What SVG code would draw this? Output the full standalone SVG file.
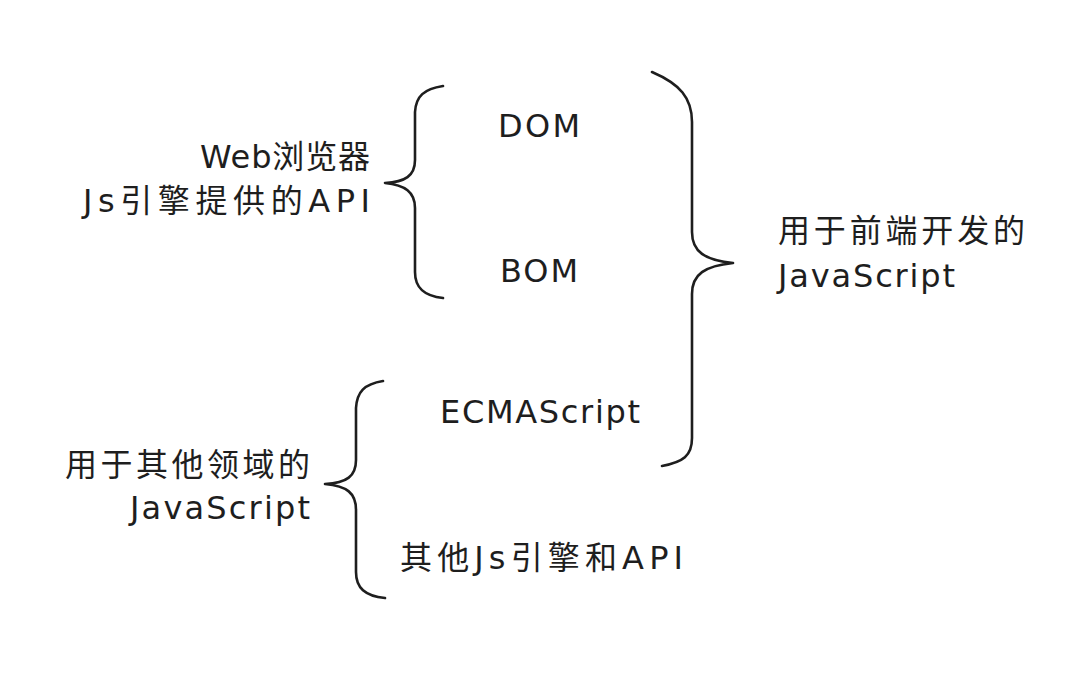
<svg xmlns="http://www.w3.org/2000/svg" width="1080" height="679" viewBox="0 0 1080 679">
<style>
.t{font-family:"DejaVu Sans","Noto Sans CJK SC",sans-serif;font-size:32px;fill:#1e1e1e}
.b{fill:none;stroke:#1e1e1e;stroke-width:2.6;stroke-linecap:round;stroke-linejoin:round}
</style>
<rect width="1080" height="679" fill="#ffffff"/>
<g id="connectors">
<path class="b" d="M443,86 C424,89 416,96 415,112 L415,160 C415,176 405,182 385,183 C405,185 415,192 415,208 L415,272 C415,288 424,296 443,298"/>
<path class="b" d="M652,72 C680,84 692,98 692,122 L692,232 C692,252 705,260 733,263 C705,266 692,274 692,294 L692,438 C692,456 683,462 662,466"/>
<path class="b" d="M383,381 C364,384 357,392 356,408 L356,460 C356,476 347,483 325,484 C347,486 356,493 356,510 L356,572 C356,588 365,596 385,598"/>
</g>
<g id="web-browser"><text class="t" x="200" y="168" textLength="170" lengthAdjust="spacing">Web浏览器</text>
<text class="t" x="83" y="212" textLength="287" lengthAdjust="spacing">Js引擎提供的API</text></g>
<g id="dom"><text class="t" x="498" y="137" textLength="82" lengthAdjust="spacing">DOM</text></g>
<g id="bom"><text class="t" x="500" y="282" textLength="78" lengthAdjust="spacing">BOM</text></g>
<g id="frontend"><text class="t" x="778" y="242" textLength="247" lengthAdjust="spacing">用于前端开发的</text>
<text class="t" x="778" y="287" textLength="177" lengthAdjust="spacing">JavaScript</text></g>
<g id="ecmascript"><text class="t" x="440" y="423" textLength="200" lengthAdjust="spacing">ECMAScript</text></g>
<g id="other"><text class="t" x="65" y="476" textLength="245" lengthAdjust="spacing">用于其他领域的</text>
<text class="t" x="130" y="519" textLength="180" lengthAdjust="spacing">JavaScript</text></g>
<g id="other-engines"><text class="t" x="400" y="569" textLength="283" lengthAdjust="spacing">其他Js引擎和API</text></g>
</svg>
